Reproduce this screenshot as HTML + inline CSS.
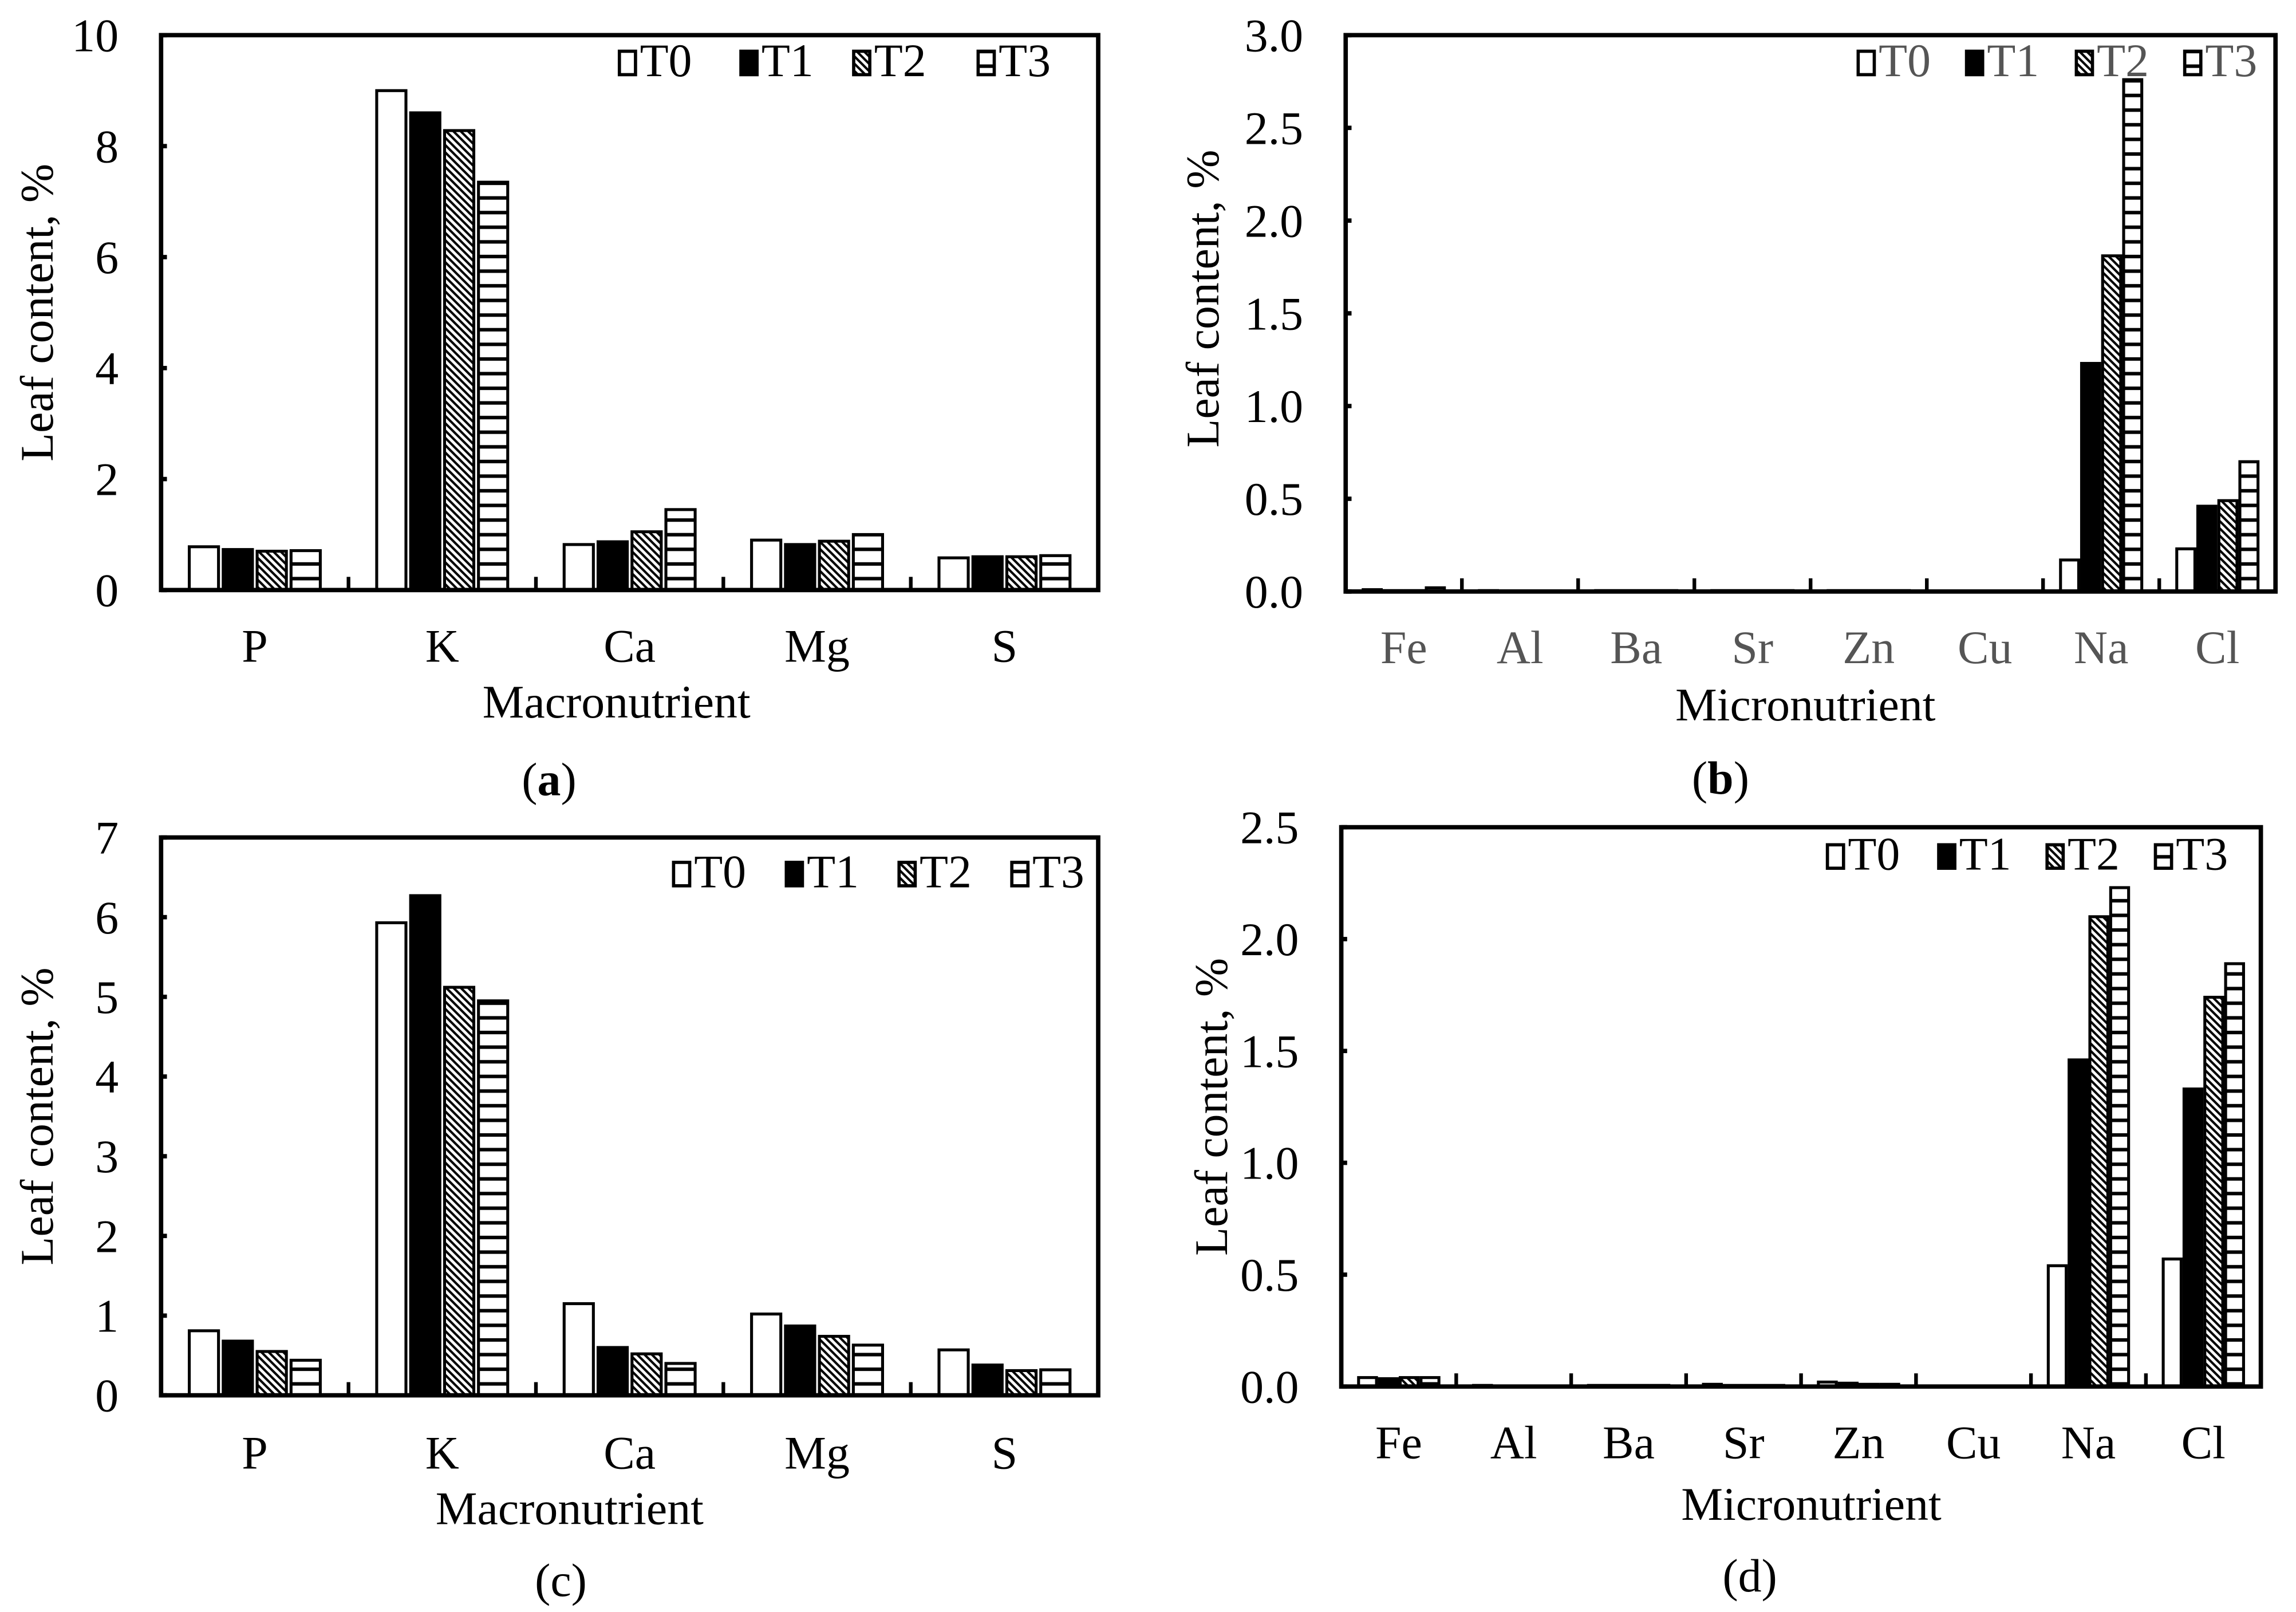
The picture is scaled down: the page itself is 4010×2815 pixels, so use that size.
<!DOCTYPE html>
<html><head><meta charset="utf-8"><style>
html,body{margin:0;padding:0;background:#fff;}
svg{display:block;font-family:"Liberation Serif","Times New Roman",serif;}
</style></head><body>
<svg id="fig" width="4010" height="2815" viewBox="0 0 1568 1101" preserveAspectRatio="none" xmlns="http://www.w3.org/2000/svg">
<defs>
<pattern id="hatch" patternUnits="userSpaceOnUse" width="5" height="5">
<rect width="5" height="5" fill="#fff"/>
<path d="M0,0 L5,5 M-2.5,2.5 L2.5,7.5 M2.5,-2.5 L7.5,2.5" stroke="#000" stroke-width="1.6"/>
</pattern>
<pattern id="hlines" patternUnits="userSpaceOnUse" width="10" height="10">
<rect width="10" height="10" fill="#fff"/>
<rect y="4" width="10" height="2.4" fill="#000"/>
</pattern>
</defs>
</svg>
<script>
const seriesNames = ["T0","T1","T2","T3"];
const fills = ["#fff","#000","url(#hatch)","url(#hlines)"];

const catsA = ["P","K","Ca","Mg","S"];
const a_T0 = [0.78, 9.0, 0.82, 0.90, 0.58];
const a_T1 = [0.73, 8.6, 0.87, 0.82, 0.60];
const a_T2 = [0.70, 8.28, 1.05, 0.88, 0.60];
const a_T3 = [0.71, 7.35, 1.45, 1.00, 0.62];
const ticksA = [0,2,4,6,8,10];

const catsB = ["Fe","Al","Ba","Sr","Zn","Cu","Na","Cl"];
const b_T0 = [0.01, 0.005, 0.005, 0.005, 0.005, 0, 0.17, 0.23];
const b_T1 = [0.005, 0.003, 0.005, 0.005, 0.005, 0, 1.23, 0.46];
const b_T2 = [0.005, 0.003, 0.005, 0.005, 0.005, 0, 1.81, 0.49];
const b_T3 = [0.02, 0.003, 0.005, 0.005, 0.005, 0, 2.76, 0.70];
const ticksB = ["0.0","0.5","1.0","1.5","2.0","2.5","3.0"];

const catsC = ["P","K","Ca","Mg","S"];
const c_T0 = [0.81, 5.93, 1.15, 1.02, 0.57];
const c_T1 = [0.68, 6.27, 0.60, 0.87, 0.38];
const c_T2 = [0.55, 5.12, 0.52, 0.74, 0.31];
const c_T3 = [0.44, 4.95, 0.40, 0.63, 0.32];
const ticksC = [0,1,2,3,4,5,6,7];

const catsD = ["Fe","Al","Ba","Sr","Zn","Cu","Na","Cl"];
const d_T0 = [0.04, 0.005, 0.005, 0.01, 0.02, 0.002, 0.54, 0.57];
const d_T1 = [0.035, 0.003, 0.005, 0.005, 0.015, 0.002, 1.46, 1.33];
const d_T2 = [0.04, 0.003, 0.005, 0.005, 0.01, 0.002, 2.10, 1.74];
const d_T3 = [0.04, 0.003, 0.005, 0.005, 0.01, 0.002, 2.23, 1.89];
const ticksD = ["0.0","0.5","1.0","1.5","2.0","2.5"];

const NS="http://www.w3.org/2000/svg";
const svg=document.getElementById('fig');
function mk(tag,attrs,parent){const e=document.createElementNS(NS,tag);for(const k in attrs)e.setAttribute(k,attrs[k]);(parent||svg).appendChild(e);return e;}

function panel(o){
  const g=mk('g',{});
  
  
  const ymax=parseFloat(o.ticks[o.ticks.length-1]);
  const yS=v=>o.bottom-(v/ymax)*(o.bottom-o.top);
  const cw=(o.right-o.left)/o.cats.length;
  const step=cw*0.181, bw=cw*0.156;
  // bars
  o.series.forEach((vals,si)=>{
    vals.forEach((v,ci)=>{
      const cx=o.left+cw*(ci+0.5);
      const x=cx-(3*step+bw)/2+si*step;
      const y=yS(v);
      const r=mk('rect',{x:x,y:y,width:bw,height:Math.max(0,o.bottom-y),fill:fills[si],stroke:'#000','stroke-width':2},g);
      
      
    });
  });
  // category separators
  for(let i=1;i<o.cats.length;i++){
    const x=o.left+cw*i;
    mk('line',{x1:x,x2:x,y1:o.bottom,y2:o.bottom-9,stroke:'#000','stroke-width':2.5},g);
  }
  // frame
  const f=mk('rect',{x:o.left,y:o.top,width:o.right-o.left,height:o.bottom-o.top,fill:'none',stroke:'#000','stroke-width':3},g);
  
  
  // y ticks
  o.ticks.forEach(t=>{
    const y=yS(parseFloat(t));
    mk('line',{x1:o.left,x2:o.left+4,y1:y,y2:y,stroke:'#000','stroke-width':3},g);
    const tx=mk('text',{x:o.left-29,y:y+11,'text-anchor':'end','font-size':32},g);
    tx.textContent=t;
    
    
  });
  // category labels
  o.cats.forEach((c,ci)=>{
    const t=mk('text',{x:o.left+cw*(ci+0.5),y:o.catY,'text-anchor':'middle','font-size':32,fill:o.gray?'#555':'#000'},g);
    t.textContent=c;
    
    
  });
  // axis titles
  const xt=mk('text',{x:o.xtX,y:o.xtY,'text-anchor':'middle','font-size':32},g);
  xt.textContent=o.xtitle;
  
  
  const ycy=(o.top+o.bottom)/2+o.ylOff;
  const yt=mk('text',{x:0,y:0,'text-anchor':'middle','font-size':32,transform:`translate(${o.ylX},${ycy}) rotate(-90)`},g);
  yt.textContent='Leaf content, %';
  
  
  const pl=mk('text',{x:o.plX,y:o.plY,'text-anchor':'middle','font-size':32},g);
  if(o.bold){pl.innerHTML='(<tspan font-weight="bold">'+o.letter+'</tspan>)';}else{pl.textContent='('+o.letter+')';}
  
  
  // legend
  o.legX.forEach((lx,i)=>{
    const lg=mk('g',{},g);
    
    
    mk('rect',{x:lx,y:o.legY-17,width:11,height:16,fill:fills[i],stroke:'#000','stroke-width':2.2},lg);
    const t=mk('text',{x:lx+14,y:o.legY,'font-size':32,fill:o.gray?'#555':'#000'},lg);
    t.textContent=seriesNames[i];
  });
}

panel({name:'panel-a',cats:catsA,series:[a_T0,a_T1,a_T2,a_T3],ticks:ticksA,left:110,right:750,top:24,bottom:403,catY:452,xtitle:'Macronutrient',xtX:421,xtY:490,ylX:36,ylOff:0,plX:375,plY:543,letter:'a',bold:true,legX:[423,506,583,668],legY:52});
panel({name:'panel-b',cats:catsB,series:[b_T0,b_T1,b_T2,b_T3],ticks:ticksB,left:919,right:1554,top:24,bottom:404,catY:453,xtitle:'Micronutrient',xtX:1233,xtY:492,ylX:832,ylOff:-10,plX:1175,plY:542,letter:'b',bold:true,gray:true,legX:[1269,1343,1418,1492],legY:52});
panel({name:'panel-c',cats:catsC,series:[c_T0,c_T1,c_T2,c_T3],ticks:ticksC,left:110,right:750,top:572,bottom:953,catY:1003,xtitle:'Macronutrient',xtX:389,xtY:1041,ylX:36,ylOff:0,plX:383,plY:1090,letter:'c',legX:[460,537,614,691],legY:606});
panel({name:'panel-d',cats:catsD,series:[d_T0,d_T1,d_T2,d_T3],ticks:ticksD,left:916,right:1544,top:565,bottom:947,catY:996,xtitle:'Micronutrient',xtX:1237,xtY:1038,ylX:838,ylOff:0,plX:1195,plY:1087,letter:'d',legX:[1248,1324,1398,1472],legY:594});
</script>
</body></html>
